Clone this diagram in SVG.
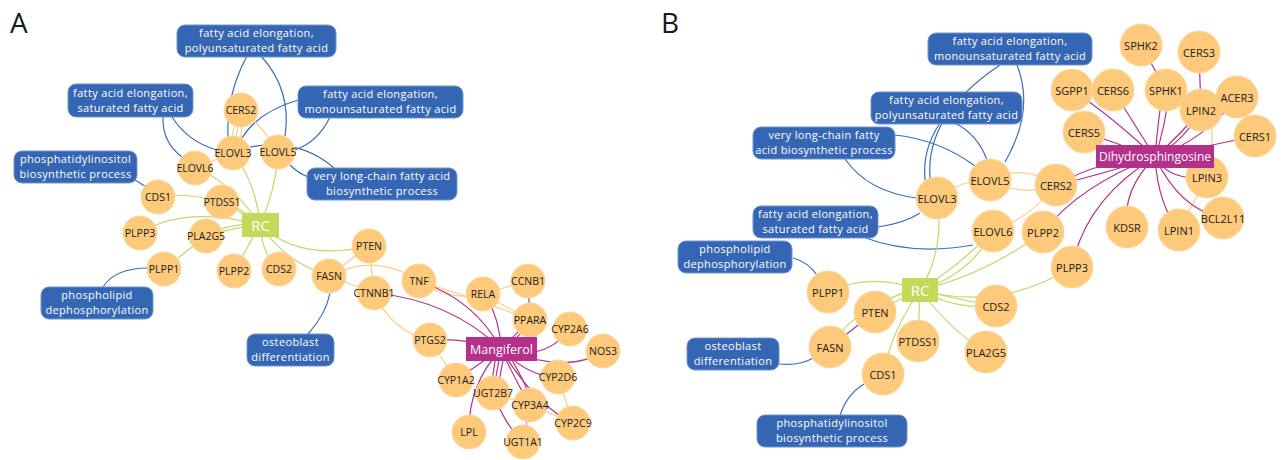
<svg xmlns="http://www.w3.org/2000/svg" width="1286" height="460" viewBox="0 0 1286 460">
<style>
.bg{fill:#ffffff}
.pl{font-family:"Open Sans","Noto Sans","DejaVu Sans",sans-serif;font-size:28px;fill:#1a1a1a}
.box{fill:#3566b3;stroke:#6f95cf;stroke-width:1}
.bt{font-family:"Open Sans","Noto Sans","DejaVu Sans",sans-serif;font-size:11px;letter-spacing:0.35px;fill:#ffffff;text-anchor:middle}
.g{fill:#fdca7c;stroke:#fdd79c;stroke-width:1}
.gt{font-family:"Open Sans","Noto Sans","DejaVu Sans",sans-serif;font-size:10.5px;fill:#1a1a1a;text-anchor:middle;dominant-baseline:central}
.gtb{font-family:"Open Sans","Noto Sans","DejaVu Sans",sans-serif;font-size:11px;fill:#1a1a1a;text-anchor:middle;dominant-baseline:central}
.rc{fill:#c6d85c}
.cp{fill:#b5308a}
.ct{font-family:"Open Sans","Noto Sans","DejaVu Sans",sans-serif;font-size:15px;fill:#ffffff;text-anchor:middle;dominant-baseline:central}
.ct2{font-family:"Open Sans","Noto Sans","DejaVu Sans",sans-serif;font-size:12.5px;fill:#ffffff;text-anchor:middle;dominant-baseline:central}
.ct3{font-family:"Open Sans","Noto Sans","DejaVu Sans",sans-serif;font-size:12px;fill:#ffffff;text-anchor:middle;dominant-baseline:central}
.eb{fill:none;stroke:#3b6dbd;stroke-width:1.2}
.eg{fill:none;stroke:#c4d867;stroke-width:1.2}
.eo{fill:none;stroke:#fdcc88;stroke-width:1.2}
.em{fill:none;stroke:#b5308a;stroke-width:1.2}
.el{fill:none;stroke:#d98bc0;stroke-width:1.2}
</style>
<rect class="bg" x="0" y="0" width="1286" height="460"/>
<text class="pl" x="10" y="33">A</text>
<text class="pl" x="661" y="33">B</text>

<g id="connectors">
<!-- Panel A blue -->
<path class="eb" d="M247,56 Q226,95 228,137"/>
<path class="eb" d="M261,56 Q292,90 285,136"/>
<path class="eb" d="M163,117 Q162,142 182,157"/>
<path class="eb" d="M172,117 Q188,142 217,150"/>
<path class="eb" d="M298,100 Q258,112 242,138"/>
<path class="eb" d="M330,117 Q318,142 295,150"/>
<path class="eb" d="M250,147 Q300,138 334,168"/>
<path class="eb" d="M290,165 Q298,173 308,177"/>
<path class="eb" d="M135,180 L148,188"/>
<path class="eb" d="M103,287 Q115,268 148,268"/>
<path class="eb" d="M308,334 Q326,314 330,293"/>
<!-- Panel A orange -->
<path class="eo" d="M241,110 Q232,130 229,150"/>
<path class="eo" d="M241,110 L233,153"/>
<path class="eo" d="M241,110 Q244,132 237,153"/>
<path class="eo" d="M241,110 Q262,125 278,152"/>
<path class="eo" d="M195,168 L233,153"/>
<path class="eo" d="M369,246 L329,276"/>
<path class="eo" d="M369,246 L374,293"/>
<path class="eo" d="M329,276 Q375,252 419,281"/>
<path class="eo" d="M329,276 L374,293"/>
<path class="eo" d="M374,293 Q392,332 430,340"/>
<path class="eo" d="M419,281 Q450,302 483,294"/>
<path class="eo" d="M419,281 Q480,300 530,320"/>
<path class="eo" d="M483,294 L528,281"/>
<path class="eo" d="M483,294 L530,320"/>
<path class="eo" d="M430,340 L456,380"/>
<path class="eo" d="M558,377 L573,423"/>
<path class="eo" d="M493,393 L530,405"/>
<path class="eo" d="M530,405 L573,423"/>
<path class="em" d="M528,281 L530,320"/>
<path class="el" d="M530,405 L523,442"/>
<!-- Panel A magenta -->
<path class="em" d="M501,349 Q475,300 419,281"/>
<path class="em" d="M501,349 Q450,300 374,293"/>
<path class="em" d="M501,349 Q500,320 486,296"/>
<path class="em" d="M501,349 L528,322"/>
<path class="em" d="M505,349 L532,322"/>
<path class="em" d="M501,349 Q465,338 430,340"/>
<path class="em" d="M501,349 Q545,362 570,329"/>
<path class="em" d="M501,349 Q530,378 558,377"/>
<path class="em" d="M501,349 Q570,375 603,351"/>
<path class="em" d="M501,349 L456,380"/>
<path class="em" d="M497,349 L490,393"/>
<path class="em" d="M501,349 L493,393"/>
<path class="em" d="M505,349 L497,393"/>
<path class="em" d="M501,349 Q515,380 530,405"/>
<path class="em" d="M505,349 Q525,380 533,405"/>
<path class="em" d="M501,349 Q535,405 573,423"/>
<path class="em" d="M501,349 Q468,385 469,432"/>
<path class="em" d="M493,393 Q505,425 523,442"/>
<!-- Panel A green -->
<path class="eg" d="M260,225 Q232,182 195,168"/>
<path class="eg" d="M260,225 Q256,182 233,153"/>
<path class="eg" d="M260,225 Q276,190 278,152"/>
<path class="eg" d="M260,225 Q212,188 158,197"/>
<path class="eg" d="M260,225 Q240,206 222,202"/>
<path class="eg" d="M260,225 Q245,214 222,202"/>
<path class="eg" d="M260,225 Q185,205 140,233"/>
<path class="eg" d="M260,225 Q230,222 206,236"/>
<path class="eg" d="M260,225 Q232,228 206,236"/>
<path class="eg" d="M206,236 L164,269"/>
<path class="eg" d="M260,225 L234,271"/>
<path class="eg" d="M260,225 Q262,255 279,269"/>
<path class="eg" d="M260,225 Q300,262 369,246"/>
<path class="eg" d="M260,225 Q285,262 329,276"/>

<!-- Panel B blue -->
<path class="eb" d="M1000,65 Q925,115 930,178"/>
<path class="eb" d="M1017,65 Q1035,110 1005,162"/>
<path class="eb" d="M940,123 Q922,150 925,180"/>
<path class="eb" d="M955,123 Q978,135 987,160"/>
<path class="eb" d="M895,135 Q940,140 975,166"/>
<path class="eb" d="M845,159 Q868,192 917,198"/>
<path class="eb" d="M878,227 Q905,223 920,213"/>
<path class="eb" d="M863,237 Q912,256 973,245"/>
<path class="eb" d="M793,258 Q808,262 817,275"/>
<path class="eb" d="M779,364 Q800,366 813,358"/>
<path class="eb" d="M840,416 Q846,395 864,384"/>
<!-- Panel B orange -->
<path class="eo" d="M937,198 Q960,180 990,180"/>
<path class="eo" d="M990,180 Q1023,163 1056,185"/>
<path class="eo" d="M990,180 Q1023,198 1056,185"/>
<path class="eo" d="M993,231 Q1030,218 1056,185"/>
<path class="eo" d="M1212,125 L1212,163"/>
<path class="eo" d="M1207,177 L1179,230"/>
<!-- Panel B magenta -->
<path class="em" d="M1155,157 Q1100,160 1056,185"/>
<path class="em" d="M1155,157 Q1100,175 1056,185"/>
<path class="em" d="M1155,157 Q1080,185 1043,232"/>
<path class="em" d="M1155,157 Q1085,200 1072,267"/>
<path class="em" d="M1155,157 Q1122,190 1127,227"/>
<path class="em" d="M1155,157 Q1158,205 1179,230"/>
<path class="em" d="M1155,157 Q1180,210 1223,218"/>
<path class="em" d="M1155,157 Q1170,182 1207,177"/>
<path class="em" d="M1155,157 L1255,136"/>
<path class="em" d="M1155,157 Q1205,140 1237,97"/>
<path class="em" d="M1155,157 Q1180,135 1201,110"/>
<path class="em" d="M1155,157 Q1185,140 1201,110"/>
<path class="em" d="M1155,157 Q1158,120 1163,90"/>
<path class="em" d="M1155,157 Q1166,125 1169,90"/>
<path class="em" d="M1155,157 Q1135,125 1113,90"/>
<path class="em" d="M1155,157 Q1110,115 1072,90"/>
<path class="em" d="M1155,157 L1084,132"/>
<path class="em" d="M1141,45 L1166,90"/>
<path class="em" d="M1199,52 L1201,110"/>
<path class="em" d="M875,312 L830,347"/>
<!-- Panel B green -->
<path class="eg" d="M920,290 Q945,250 937,198"/>
<path class="eg" d="M920,290 Q960,265 993,231"/>
<path class="eg" d="M920,290 Q970,275 993,231"/>
<path class="eg" d="M920,290 Q985,275 1043,232"/>
<path class="eg" d="M920,290 Q1000,312 1072,267"/>
<path class="eg" d="M920,290 Q960,300 996,306"/>
<path class="eg" d="M920,290 Q955,310 996,306"/>
<path class="eg" d="M920,290 Q870,272 828,292"/>
<path class="eg" d="M920,290 Q895,290 875,312"/>
<path class="eg" d="M920,290 Q898,300 875,312"/>
<path class="eg" d="M920,290 Q860,300 830,347"/>
<path class="eg" d="M920,290 Q892,330 883,374"/>
<path class="eg" d="M920,290 L918,341"/>
<path class="eg" d="M920,290 Q950,330 986,352"/>
</g>

<!-- Panel A nodes -->
<g id="A-poly"><rect class="box" x="177" y="25" width="159" height="32" rx="8"/><text class="bt" x="256.5" y="37">fatty acid elongation,</text><text class="bt" x="256.5" y="52">polyunsaturated fatty acid</text></g>
<g id="A-sat"><rect class="box" x="68" y="84" width="125" height="33" rx="8"/><text class="bt" x="130.5" y="97">fatty acid elongation,</text><text class="bt" x="130.5" y="112">saturated fatty acid</text></g>
<g id="A-mono"><rect class="box" x="298" y="86" width="165" height="32" rx="8"/><text class="bt" x="380.5" y="98">fatty acid elongation,</text><text class="bt" x="380.5" y="113">monounsaturated fatty acid</text></g>
<g id="A-pi"><rect class="box" x="14" y="151" width="123" height="32" rx="8"/><text class="bt" x="75.5" y="163">phosphatidylinositol</text><text class="bt" x="75.5" y="178">biosynthetic process</text></g>
<g id="A-vlc"><rect class="box" x="307" y="168" width="150" height="32" rx="8"/><text class="bt" x="382" y="180">very long-chain fatty acid</text><text class="bt" x="382" y="195">biosynthetic process</text></g>
<g id="A-phos"><rect class="box" x="41" y="287" width="112" height="32" rx="8"/><text class="bt" x="97" y="299">phospholipid</text><text class="bt" x="97" y="314">dephosphorylation</text></g>
<g id="A-osteo"><rect class="box" x="247" y="334" width="87" height="32" rx="8"/><text class="bt" x="290.5" y="346">osteoblast</text><text class="bt" x="290.5" y="361">differentiation</text></g>

<g id="A-CERS2"><circle class="g" cx="241" cy="110" r="17"/><text class="gt" x="241" y="110">CERS2</text></g>
<g id="A-ELOVL3"><circle class="g" cx="233" cy="153" r="17"/><text class="gt" x="233" y="153">ELOVL3</text></g>
<g id="A-ELOVL5"><circle class="g" cx="278" cy="152" r="17"/><text class="gt" x="278" y="152">ELOVL5</text></g>
<g id="A-ELOVL6"><circle class="g" cx="195" cy="168" r="17"/><text class="gt" x="195" y="168">ELOVL6</text></g>
<g id="A-CDS1"><circle class="g" cx="158" cy="197" r="17"/><text class="gt" x="158" y="197">CDS1</text></g>
<g id="A-PTDSS1"><circle class="g" cx="222" cy="202" r="17"/><text class="gt" x="222" y="202">PTDSS1</text></g>
<g id="A-PLPP3"><circle class="g" cx="140" cy="233" r="17"/><text class="gt" x="140" y="233">PLPP3</text></g>
<g id="A-PLA2G5"><circle class="g" cx="206" cy="236" r="17"/><text class="gt" x="206" y="236">PLA2G5</text></g>
<g id="A-PLPP1"><circle class="g" cx="164" cy="269" r="17"/><text class="gt" x="164" y="269">PLPP1</text></g>
<g id="A-PLPP2"><circle class="g" cx="234" cy="271" r="17"/><text class="gt" x="234" y="271">PLPP2</text></g>
<g id="A-CDS2"><circle class="g" cx="279" cy="269" r="17"/><text class="gt" x="279" y="269">CDS2</text></g>
<g id="A-PTEN"><circle class="g" cx="369" cy="246" r="17"/><text class="gt" x="369" y="246">PTEN</text></g>
<g id="A-FASN"><circle class="g" cx="329" cy="276" r="17"/><text class="gt" x="329" y="276">FASN</text></g>
<g id="A-CTNNB1"><circle class="g" cx="374" cy="293" r="17"/><text class="gt" x="374" y="293">CTNNB1</text></g>
<g id="A-TNF"><circle class="g" cx="419" cy="281" r="17"/><text class="gt" x="419" y="281">TNF</text></g>
<g id="A-RELA"><circle class="g" cx="483" cy="294" r="17"/><text class="gt" x="483" y="294">RELA</text></g>
<g id="A-CCNB1"><circle class="g" cx="528" cy="281" r="17"/><text class="gt" x="528" y="281">CCNB1</text></g>
<g id="A-PPARA"><circle class="g" cx="530" cy="320" r="17"/><text class="gt" x="530" y="320">PPARA</text></g>
<g id="A-PTGS2"><circle class="g" cx="430" cy="340" r="17"/><text class="gt" x="430" y="340">PTGS2</text></g>
<g id="A-CYP2A6"><circle class="g" cx="570" cy="329" r="17"/><text class="gt" x="570" y="329">CYP2A6</text></g>
<g id="A-NOS3"><circle class="g" cx="603" cy="351" r="17"/><text class="gt" x="603" y="351">NOS3</text></g>
<g id="A-CYP1A2"><circle class="g" cx="456" cy="380" r="17"/><text class="gt" x="456" y="380">CYP1A2</text></g>
<g id="A-CYP2D6"><circle class="g" cx="558" cy="377" r="17"/><text class="gt" x="558" y="377">CYP2D6</text></g>
<g id="A-UGT2B7"><circle class="g" cx="493" cy="393" r="17"/><text class="gt" x="493" y="393">UGT2B7</text></g>
<g id="A-CYP3A4"><circle class="g" cx="530" cy="405" r="17"/><text class="gt" x="530" y="405">CYP3A4</text></g>
<g id="A-CYP2C9"><circle class="g" cx="573" cy="423" r="17"/><text class="gt" x="573" y="423">CYP2C9</text></g>
<g id="A-LPL"><circle class="g" cx="469" cy="432" r="17"/><text class="gt" x="469" y="432">LPL</text></g>
<g id="A-UGT1A1"><circle class="g" cx="523" cy="442" r="17"/><text class="gt" x="523" y="442">UGT1A1</text></g>
<g id="A-RC"><rect class="rc" x="242" y="213" width="37" height="24"/><text class="ct" x="260.5" y="225">RC</text></g>
<g id="A-Mangiferol"><rect class="cp" x="466" y="337" width="71" height="24"/><text class="ct2" x="501.5" y="349">Mangiferol</text></g>

<!-- Panel B nodes -->
<g id="B-mono"><rect class="box" x="928" y="33" width="164" height="32" rx="8"/><text class="bt" x="1010" y="45">fatty acid elongation,</text><text class="bt" x="1010" y="60">monounsaturated fatty acid</text></g>
<g id="B-poly"><rect class="box" x="871" y="92" width="151" height="32" rx="8"/><text class="bt" x="946.5" y="104">fatty acid elongation,</text><text class="bt" x="946.5" y="119">polyunsaturated fatty acid</text></g>
<g id="B-vlc"><rect class="box" x="753" y="127" width="142" height="32" rx="8"/><text class="bt" x="824" y="139">very long-chain fatty</text><text class="bt" x="824" y="154">acid biosynthetic process</text></g>
<g id="B-sat"><rect class="box" x="753" y="206" width="125" height="32" rx="8"/><text class="bt" x="815.5" y="218">fatty acid elongation,</text><text class="bt" x="815.5" y="233">saturated fatty acid</text></g>
<g id="B-phos"><rect class="box" x="678" y="241" width="114" height="32" rx="8"/><text class="bt" x="735" y="253">phospholipid</text><text class="bt" x="735" y="268">dephosphorylation</text></g>
<g id="B-osteo"><rect class="box" x="687" y="338" width="92" height="32" rx="8"/><text class="bt" x="733" y="350">osteoblast</text><text class="bt" x="733" y="365">differentiation</text></g>
<g id="B-pi"><rect class="box" x="757" y="415" width="150" height="32" rx="8"/><text class="bt" x="832" y="427">phosphatidylinositol</text><text class="bt" x="832" y="442">biosynthetic process</text></g>

<g id="B-ELOVL3"><circle class="g" cx="937" cy="198" r="21"/><text class="gtb" x="937" y="198">ELOVL3</text></g>
<g id="B-ELOVL5"><circle class="g" cx="990" cy="180" r="21"/><text class="gtb" x="990" y="180">ELOVL5</text></g>
<g id="B-ELOVL6"><circle class="g" cx="993" cy="231" r="21"/><text class="gtb" x="993" y="231">ELOVL6</text></g>
<g id="B-CERS2"><circle class="g" cx="1056" cy="185" r="21"/><text class="gtb" x="1056" y="185">CERS2</text></g>
<g id="B-PLPP2"><circle class="g" cx="1043" cy="232" r="21"/><text class="gtb" x="1043" y="232">PLPP2</text></g>
<g id="B-PLPP3"><circle class="g" cx="1072" cy="267" r="21"/><text class="gtb" x="1072" y="267">PLPP3</text></g>
<g id="B-CDS2"><circle class="g" cx="996" cy="306" r="21"/><text class="gtb" x="996" y="306">CDS2</text></g>
<g id="B-PLPP1"><circle class="g" cx="828" cy="292" r="21"/><text class="gtb" x="828" y="292">PLPP1</text></g>
<g id="B-PTEN"><circle class="g" cx="875" cy="312" r="21"/><text class="gtb" x="875" y="312">PTEN</text></g>
<g id="B-FASN"><circle class="g" cx="830" cy="347" r="21"/><text class="gtb" x="830" y="347">FASN</text></g>
<g id="B-PTDSS1"><circle class="g" cx="918" cy="341" r="21"/><text class="gtb" x="918" y="341">PTDSS1</text></g>
<g id="B-PLA2G5"><circle class="g" cx="986" cy="352" r="21"/><text class="gtb" x="986" y="352">PLA2G5</text></g>
<g id="B-CDS1"><circle class="g" cx="883" cy="374" r="21"/><text class="gtb" x="883" y="374">CDS1</text></g>
<g id="B-SPHK2"><circle class="g" cx="1141" cy="45" r="21"/><text class="gtb" x="1141" y="45">SPHK2</text></g>
<g id="B-CERS3"><circle class="g" cx="1199" cy="52" r="21"/><text class="gtb" x="1199" y="52">CERS3</text></g>
<g id="B-SGPP1"><circle class="g" cx="1072" cy="90" r="21"/><text class="gtb" x="1072" y="90">SGPP1</text></g>
<g id="B-CERS6"><circle class="g" cx="1113" cy="90" r="21"/><text class="gtb" x="1113" y="90">CERS6</text></g>
<g id="B-SPHK1"><circle class="g" cx="1166" cy="90" r="21"/><text class="gtb" x="1166" y="90">SPHK1</text></g>
<g id="B-ACER3"><circle class="g" cx="1237" cy="97" r="21"/><text class="gtb" x="1237" y="97">ACER3</text></g>
<g id="B-LPIN2"><circle class="g" cx="1201" cy="110" r="21"/><text class="gtb" x="1201" y="110">LPIN2</text></g>
<g id="B-CERS1"><circle class="g" cx="1255" cy="136" r="21"/><text class="gtb" x="1255" y="136">CERS1</text></g>
<g id="B-CERS5"><circle class="g" cx="1084" cy="132" r="21"/><text class="gtb" x="1084" y="132">CERS5</text></g>
<g id="B-LPIN3"><circle class="g" cx="1207" cy="177" r="21"/><text class="gtb" x="1207" y="177">LPIN3</text></g>
<g id="B-BCL2L11"><circle class="g" cx="1223" cy="218" r="21"/><text class="gtb" x="1223" y="218">BCL2L11</text></g>
<g id="B-LPIN1"><circle class="g" cx="1179" cy="230" r="21"/><text class="gtb" x="1179" y="230">LPIN1</text></g>
<g id="B-KDSR"><circle class="g" cx="1127" cy="227" r="21"/><text class="gtb" x="1127" y="227">KDSR</text></g>
<g id="B-RC"><rect class="rc" x="902" y="278" width="36" height="24"/><text class="ct" x="920" y="290">RC</text></g>
<g id="B-Dihydrosphingosine"><rect class="cp" x="1096" y="145" width="118" height="23"/><text class="ct3" x="1155" y="156.5">Dihydrosphingosine</text></g>
</svg>
